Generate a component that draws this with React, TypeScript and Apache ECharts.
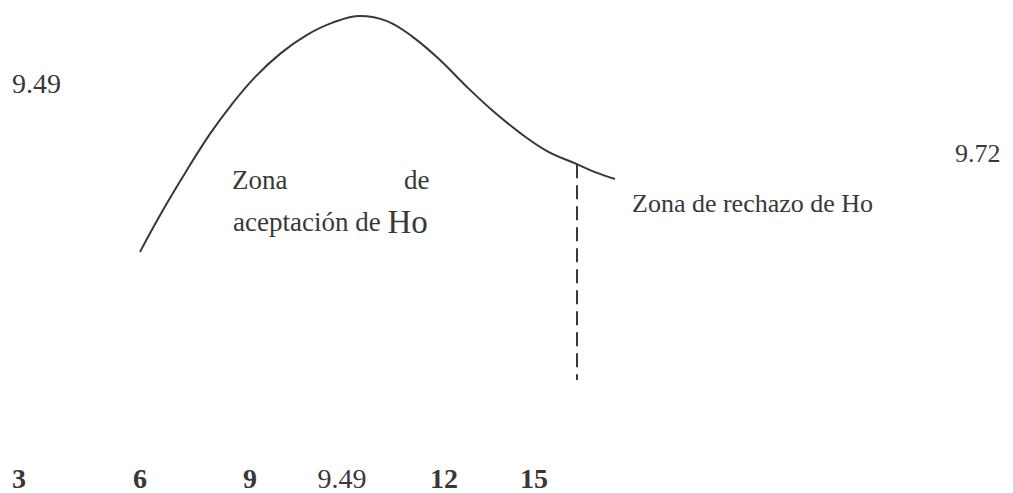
import React, { useEffect, useRef } from "react";
import * as echarts from "echarts";

// Curve (arbitrary horizontal units, density scaled 0..1)
const curveX = [0, 0.92, 1.88, 2.8, 3.68, 4.6, 5.6, 6.68, 7.68, 8.8, 9.88, 10.92, 12.0, 13.08, 14.12, 15.2, 16.28, 17.48, 18.2, 19.0];
const curveY = [0.352, 0.467, 0.577, 0.676, 0.758, 0.832, 0.896, 0.948, 0.981, 1.0, 0.986, 0.942, 0.879, 0.805, 0.739, 0.679, 0.629, 0.593, 0.571, 0.552];

// Critical value line (dashed)
const criticalX = [17.48, 17.48];
const criticalY = [0.593, 0];

// Bottom tick labels
const tickLabels = ["3", "6", "9", "9.49", "12", "15"];
const tickBold = [true, true, true, false, true, true];

// Annotation texts
const leftValue = "9.49";
const rightValue = "9.72";
const rejectText = "Zona de rechazo de Ho";
const acceptWord1 = "Zona";
const acceptWord2 = "de";
const acceptLine2 = "aceptación de ";
const acceptHo = "Ho";

// Layout (pixels)
const TICK_CENTERS = [19, 140, 250, 342, 444, 534];
const FONT = "Liberation Serif";
const INK = "#383838";

export default function App() {
  const ref = useRef<HTMLDivElement>(null);

  useEffect(() => {
    document.body.style.margin = "0";
    if (!ref.current) return;
    const chart = echarts.init(ref.current, null, { renderer: "svg" });

    const txt = (text: string, x: number, baseline: number, size: number, opts: any = {}) => ({
      type: "text",
      x,
      y: baseline - size * 0.33,
      style: {
        text,
        fill: INK,
        fontFamily: FONT,
        fontSize: size,
        fontWeight: opts.bold ? "bold" : "normal",
        align: opts.align || "left",
        verticalAlign: "middle",
      },
    });

    const graphics: any[] = [
      txt(leftValue, 12, 93, 28),
      txt(rightValue, 955, 162, 26),
      txt(rejectText, 632, 212, 26),
      txt(acceptWord1, 232, 189, 27),
      txt(acceptWord2, 404, 189, 27),
      {
        type: "text",
        x: 233,
        y: 231 - 27 * 0.33,
        style: {
          text: `{a|${acceptLine2}}{b|${acceptHo}}`,
          fill: INK,
          verticalAlign: "middle",
          rich: {
            a: { fontFamily: FONT, fontSize: 27, fill: INK },
            b: { fontFamily: FONT, fontSize: 33, fill: INK },
          },
        },
      },
      ...tickLabels.map((t, i) =>
        txt(t, TICK_CENTERS[i], 488, 28, { bold: tickBold[i], align: "center" })
      ),
    ];

    chart.setOption({
      animation: false,
      backgroundColor: "#ffffff",
      grid: { left: 140, top: 16, width: 475, height: 364 },
      xAxis: { type: "value", min: 0, max: 19, show: false },
      yAxis: { type: "value", min: 0, max: 1, show: false },
      series: [
        {
          type: "line",
          data: curveX.map((x, i) => [x, curveY[i]]),
          smooth: 0.4,
          showSymbol: false,
          lineStyle: { color: INK, width: 2 },
          silent: true,
        },
        {
          type: "line",
          data: criticalX.map((x, i) => [x, criticalY[i]]),
          showSymbol: false,
          lineStyle: { color: INK, width: 2, type: [14, 7] },
          silent: true,
        },
      ],
      graphic: graphics,
    });

    return () => chart.dispose();
  }, []);

  return <div ref={ref} style={{ width: 1013, height: 493 }} />;
}
